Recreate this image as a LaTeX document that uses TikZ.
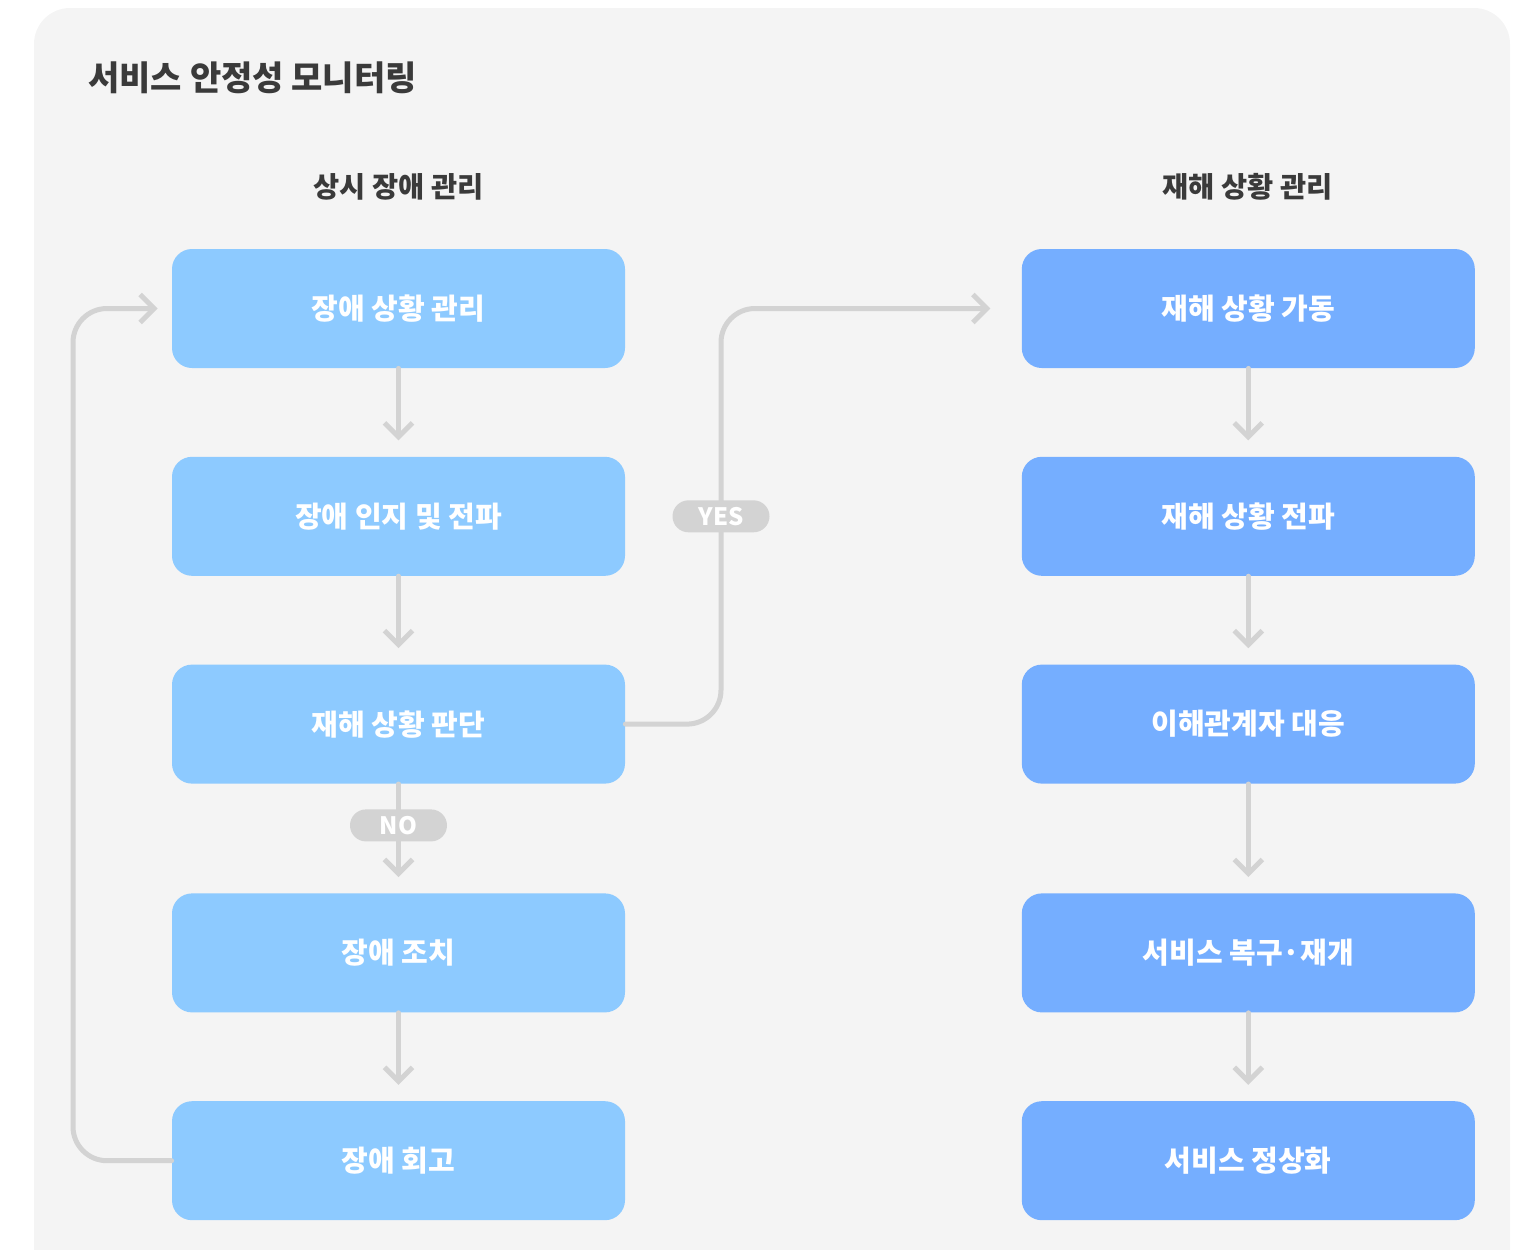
\documentclass[tikz,border=0pt]{standalone}
\usepackage{fontspec}
\setmainfont{Noto Sans CJK KR}
\usetikzlibrary{positioning,arrows.meta}
\definecolor{panelgray}{HTML}{F4F4F4}
\definecolor{linegray}{HTML}{D3D3D3}
\definecolor{softblue}{HTML}{8DCAFF}
\definecolor{deepblue}{HTML}{75AEFF}
\definecolor{inkgray}{HTML}{3A3A3A}
\tikzset{
  stage/.style={rectangle, rounded corners=10pt, minimum width=226.5pt,
    minimum height=59.5pt, inner sep=0pt, text=white,
    font=\bfseries\fontsize{14.5}{17}\selectfont},
  daily/.style={stage, fill=softblue},
  disaster/.style={stage, fill=deepblue},
  heading/.style={text=inkgray, font=\bfseries\fontsize{14.2}{16}\selectfont},
  flow/.style={draw=linegray, line width=2.5pt, line cap=round,
    -{Straight Barb[length=7pt,width=14pt,line width=2.5pt]}},
  pill/.style={rectangle, rounded corners=8pt, fill=linegray, text=white,
    minimum width=48.5pt, minimum height=16pt, inner sep=0pt,
    font=\bfseries\fontsize{12}{14}\selectfont}
}

\begin{document}
\begin{tikzpicture}[x=0.5pt, y=-0.5pt, node distance=44pt]
  \useasboundingbox (0,0) rectangle (1521,1249);
  \fill[panelgray, rounded corners=18pt] (34,8) rectangle (1510,1290);
  %
  \node[text=inkgray, anchor=west, inner sep=0pt,
        font=\bfseries\fontsize{17}{20}\selectfont]
        (title) at (88,78) {서비스 안정성 모니터링};
  \node[heading] (hleft)  at (398.5,187)  {상시 장애 관리};
  \node[heading] (hright) at (1247.5,187) {재해 상황 관리};
  %
  \node[daily] (d1) at (398.5,308.5)  {장애 상황 관리};
  \node[daily, below=of d1]        (d2) {장애 인지 및 전파};
  \node[daily, below=of d2]        (d3) {재해 상황 판단};
  \node[daily, below=54.5pt of d3] (d4) {장애 조치};
  \node[daily, below=of d4]        (d5) {장애 회고};
  %
  \node[disaster, right=198pt of d1] (r1) {재해 상황 가동};
  \node[disaster, below=of r1]       (r2) {재해 상황 전파};
  \node[disaster, below=of r2]       (r3) {이해관계자 대응};
  \node[disaster, below=54.5pt of r3] (r4) {서비스 복구·재개};
  \node[disaster, below=of r4]       (r5) {서비스 정상화};
  %
  \coordinate (loopx) at (73,0);
  \coordinate (yesx)  at (721,0);
  %
  \draw[flow, shorten >=8pt] (d1) -- (d2);
  \draw[flow, shorten >=8pt] (d2) -- (d3);
  \draw[flow, shorten >=8pt] (d3) -- (d4);
  \draw[flow, shorten >=8pt] (d4) -- (d5);
  \draw[flow, shorten >=8pt] (r1) -- (r2);
  \draw[flow, shorten >=8pt] (r2) -- (r3);
  \draw[flow, shorten >=8pt] (r3) -- (r4);
  \draw[flow, shorten >=8pt] (r4) -- (r5);
  %
  \draw[flow, rounded corners=17pt, shorten >=7pt]
        (d5.west) -- (d5.west -| loopx) -- (d1.west -| loopx) -- (d1.west);
  \draw[flow, rounded corners=17pt, shorten >=15.5pt]
        (d3.east) -- (d3.east -| yesx) -- (r1.west -| yesx) -- (r1.west);
  %
  \node[pill] (yes) at (yesx |- d2) {YES};
  \node[pill, below=12.5pt of d3] (no) {NO};
\end{tikzpicture}
\end{document}
